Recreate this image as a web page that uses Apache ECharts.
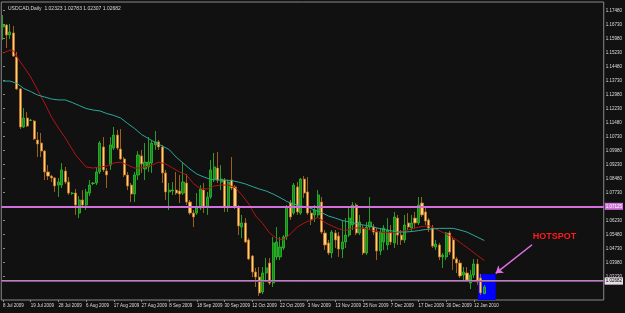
<!DOCTYPE html>
<html><head><meta charset="utf-8">
<script src="https://cdn.jsdelivr.net/npm/echarts@6/dist/echarts.min.js"></script>
<style>html,body{margin:0;padding:0;background:#111111;}#c{width:625px;height:313px;}</style>
</head><body><div id="c"></div>
<script>
const chartTitle = 'USDCAD,Daily  1.02323 1.02783 1.02307 1.02682';
const dateLabels = ['8 Jul 2009','19 Jul 2009','28 Jul 2009','6 Aug 2009','17 Aug 2009','27 Aug 2009','8 Sep 2009','18 Sep 2009','30 Sep 2009','12 Oct 2009','22 Oct 2009','3 Nov 2009','13 Nov 2009','25 Nov 2009','7 Dec 2009','17 Dec 2009','30 Dec 2009','12 Jan 2010'];
const labelEvery = 8;
const slotCount = 174;
const priceTicks = [1.17480,1.16730,1.15980,1.15230,1.14480,1.13730,1.12980,1.12230,1.11480,1.10730,1.09980,1.09230,1.08480,1.07730,1.06980,1.06230,1.05480,1.04730,1.03980,1.03230];
const priceMin = 1.01982, priceMax = 1.17946;
// [open, close, low, high]
const candles = [
[1.1661,1.1671,1.1591,1.1725],[1.1671,1.1618,1.1548,1.1677],[1.1618,1.1634,1.1596,1.1677],[1.1629,1.1505,1.1500,1.1666],
[1.1500,1.1329,1.1323,1.1527],[1.1329,1.1125,1.1114,1.1334],[1.1125,1.1173,1.1120,1.1227],[1.1173,1.1130,1.1125,1.1205],
[1.1160,1.1162,1.1157,1.1168],[1.1157,1.1061,1.1055,1.1162],[1.1055,1.1034,1.0964,1.1098],[1.1039,1.0996,1.0964,1.1093],
[1.0996,1.0884,1.0841,1.1002],[1.0884,1.0862,1.0841,1.0921],[1.0862,1.0852,1.0830,1.0868],[1.0852,1.0809,1.0777,1.0857],
[1.0814,1.0830,1.0750,1.0852],[1.0814,1.0895,1.0798,1.0932],[1.0889,1.0830,1.0820,1.0911],[1.0830,1.0771,1.0761,1.0857],
[1.0769,1.0771,1.0761,1.0777],[1.0771,1.0707,1.0654,1.0793],[1.0664,1.0734,1.0637,1.0755],[1.0734,1.0707,1.0696,1.0787],
[1.0707,1.0777,1.0680,1.0793],[1.0771,1.0814,1.0755,1.0841],[1.0822,1.0825,1.0814,1.0830],[1.0825,1.0884,1.0814,1.0905],
[1.0884,1.1039,1.0873,1.1050],[1.1018,1.0895,1.0884,1.1071],[1.0889,1.0868,1.0798,1.0905],[1.0921,1.1029,1.0895,1.1071],
[1.1012,1.1082,1.1002,1.1125],[1.1082,1.1012,1.1002,1.1109],[1.1007,1.0954,1.0948,1.1114],[1.0954,1.0868,1.0857,1.0964],
[1.0868,1.0809,1.0787,1.0884],[1.0814,1.0766,1.0723,1.0825],[1.0766,1.0868,1.0723,1.0884],[1.0868,1.0975,1.0841,1.0996],
[1.0970,1.0927,1.0879,1.1002],[1.0900,1.0937,1.0841,1.1039],[1.0911,1.0937,1.0884,1.1071],[1.0932,1.1039,1.0879,1.1055],
[1.1029,1.1045,1.1002,1.1104],[1.1045,1.1018,1.1002,1.1055],[1.1018,1.0879,1.0825,1.1029],[1.0879,1.0777,1.0734,1.0895],
[1.0777,1.0787,1.0680,1.0825],[1.0782,1.0787,1.0761,1.0830],[1.0787,1.0771,1.0761,1.0884],[1.0782,1.0766,1.0718,1.0868],
[1.0771,1.0830,1.0761,1.0932],[1.0825,1.0723,1.0707,1.0873],[1.0723,1.0664,1.0654,1.0734],[1.0664,1.0643,1.0589,1.0680],
[1.0664,1.0691,1.0654,1.0771],[1.0691,1.0793,1.0680,1.0814],[1.0787,1.0696,1.0664,1.0825],[1.0696,1.0750,1.0654,1.0777],
[1.0750,1.0895,1.0739,1.0948],[1.0846,1.0911,1.0830,1.0986],[1.0905,1.0841,1.0825,1.0991],[1.0830,1.0846,1.0787,1.0921],
[1.0841,1.0696,1.0670,1.0852],[1.0702,1.0830,1.0670,1.0841],[1.0841,1.0798,1.0787,1.0964],[1.0804,1.0696,1.0686,1.0814],
[1.0696,1.0595,1.0546,1.0707],[1.0589,1.0611,1.0530,1.0654],[1.0611,1.0509,1.0504,1.0637],[1.0520,1.0418,1.0412,1.0530],
[1.0434,1.0348,1.0321,1.0439],[1.0348,1.0321,1.0268,1.0370],[1.0321,1.0236,1.0220,1.0375],[1.0241,1.0343,1.0230,1.0375],
[1.0343,1.0370,1.0305,1.0423],[1.0396,1.0289,1.0279,1.0423],[1.0289,1.0504,1.0268,1.0536],[1.0429,1.0509,1.0412,1.0589],
[1.0429,1.0482,1.0412,1.0536],[1.0477,1.0536,1.0466,1.0546],[1.0536,1.0696,1.0520,1.0707],[1.0718,1.0643,1.0627,1.0734],
[1.0664,1.0814,1.0654,1.0825],[1.0804,1.0670,1.0654,1.0830],[1.0664,1.0846,1.0654,1.0852],[1.0846,1.0771,1.0745,1.0862],
[1.0777,1.0664,1.0654,1.0857],[1.0664,1.0627,1.0600,1.0680],[1.0654,1.0680,1.0616,1.0707],[1.0654,1.0761,1.0643,1.0787],
[1.0723,1.0562,1.0552,1.0750],[1.0557,1.0493,1.0466,1.0573],[1.0504,1.0450,1.0439,1.0520],[1.0450,1.0562,1.0423,1.0573],
[1.0557,1.0520,1.0477,1.0573],[1.0541,1.0471,1.0429,1.0562],[1.0471,1.0509,1.0423,1.0627],[1.0509,1.0546,1.0477,1.0637],
[1.0546,1.0637,1.0536,1.0691],[1.0600,1.0707,1.0573,1.0723],[1.0707,1.0557,1.0546,1.0718],[1.0557,1.0616,1.0546,1.0654],
[1.0584,1.0450,1.0439,1.0600],[1.0450,1.0589,1.0439,1.0616],[1.0589,1.0616,1.0573,1.0750],[1.0589,1.0562,1.0546,1.0605],
[1.0562,1.0461,1.0412,1.0584],[1.0461,1.0562,1.0439,1.0584],[1.0509,1.0584,1.0466,1.0600],[1.0493,1.0573,1.0466,1.0637],
[1.0562,1.0509,1.0493,1.0600],[1.0504,1.0643,1.0477,1.0670],[1.0637,1.0546,1.0493,1.0654],[1.0546,1.0520,1.0493,1.0573],
[1.0520,1.0600,1.0504,1.0654],[1.0611,1.0589,1.0573,1.0664],[1.0584,1.0611,1.0562,1.0654],[1.0637,1.0611,1.0584,1.0670],
[1.0611,1.0707,1.0600,1.0750],[1.0718,1.0654,1.0643,1.0750],[1.0670,1.0621,1.0600,1.0696],[1.0627,1.0584,1.0562,1.0637],
[1.0584,1.0487,1.0477,1.0600],[1.0482,1.0498,1.0466,1.0520],[1.0493,1.0429,1.0412,1.0504],[1.0429,1.0439,1.0370,1.0450],
[1.0429,1.0557,1.0412,1.0562],[1.0557,1.0455,1.0439,1.0568],[1.0520,1.0418,1.0359,1.0530],[1.0418,1.0396,1.0343,1.0429],
[1.0396,1.0327,1.0316,1.0412],[1.0332,1.0348,1.0300,1.0375],[1.0343,1.0305,1.0295,1.0375],[1.0289,1.0332,1.0257,1.0359],
[1.0332,1.0391,1.0316,1.0418],[1.0391,1.0295,1.0279,1.0418],[1.0316,1.0236,1.0225,1.0337],[1.02323,1.02682,1.02307,1.02783]
];
// moving averages: [bar index, value]
const maFast = [[0,1.1521],[2,1.1537],[3,1.1534],[4,1.1501],[6,1.1448],[8,1.1393],[10,1.1323],[12,1.1254],[14,1.1179],[16,1.1120],[18,1.1066],[21,1.0975],[23,1.0932],[24,1.0911],[26,1.0905],[28,1.0911],[30,1.0916],[32,1.0932],[34,1.0937],[36,1.0921],[38,1.0905],[39,1.0905],[41,1.0911],[43,1.0921],[45,1.0937],[47,1.0927],[49,1.0905],[51,1.0884],[53,1.0868],[55,1.0822],[57,1.0795],[59,1.0793],[61,1.0809],[63,1.0814],[65,1.0814],[67,1.0801],[69,1.0761],[71,1.0712],[73,1.0648],[75,1.0608],[77,1.0557],[79,1.0528],[81,1.0520],[83,1.0552],[85,1.0589],[87,1.0611],[89,1.0627],[91,1.0640],[93,1.0613],[95,1.0595],[97,1.0579],[99,1.0570],[101,1.0584],[103,1.0584],[105,1.0579],[107,1.0570],[109,1.0562],[111,1.0559],[113,1.0559],[115,1.0565],[117,1.0573],[119,1.0584],[121,1.0592],[123,1.0595],[125,1.0579],[127,1.0560],[129,1.0544],[131,1.0520],[133,1.0493],[135,1.0466],[137,1.0437],[139,1.0410]];
const maSlow = [[0,1.1371],[2,1.1371],[4,1.1359],[6,1.1331],[8,1.1315],[10,1.1296],[12,1.1286],[14,1.1275],[16,1.1270],[18,1.1270],[20,1.1256],[22,1.1240],[24,1.1224],[26,1.1216],[28,1.1211],[30,1.1197],[32,1.1187],[34,1.1173],[36,1.1144],[38,1.1117],[40,1.1085],[42,1.1063],[44,1.1042],[46,1.1023],[48,1.1004],[50,1.0964],[52,1.0932],[54,1.0900],[56,1.0873],[58,1.0857],[60,1.0844],[62,1.0841],[64,1.0841],[66,1.0838],[68,1.0830],[70,1.0820],[72,1.0806],[74,1.0793],[76,1.0782],[78,1.0766],[80,1.0747],[82,1.0726],[84,1.0712],[86,1.0702],[88,1.0696],[90,1.0680],[92,1.0667],[94,1.0648],[96,1.0637],[98,1.0624],[100,1.0616],[102,1.0608],[104,1.0600],[106,1.0595],[108,1.0584],[110,1.0576],[112,1.0570],[114,1.0562],[116,1.0562],[118,1.0565],[120,1.0570],[122,1.0576],[124,1.0579],[126,1.0582],[128,1.0582],[130,1.0582],[132,1.0573],[134,1.0562],[136,1.0544],[139,1.0517]];
const levelLines = [1.07125, 1.02919];
const bidPrice = 1.02682;
const hotspotBox = [[137.2, 1.0337], [142.3, 1.0198]];
const arrowFromTo = [[152.8, 1.0494], [142.3, 1.0341]];
const hotspotAt = [153.0, 1.0536];

const chart = echarts.init(document.getElementById('c'), null, {renderer: 'canvas'});
const cats = Array.from({length: slotCount}, (_, i) => i);
const showIdx = (i) => i % labelEvery === 0 && i / labelEvery < dateLabels.length;
const FONT = 'Liberation Sans';

chart.setOption({
  backgroundColor: '#111111',
  animation: false,
  title: {text: chartTitle, left: 3, top: 1, textStyle: {color: '#d8d8d8', fontSize: 5, fontWeight: 'normal', fontFamily: FONT}},
  grid: {left: 0, right: 19, top: 2, bottom: 13, show: true, borderColor: '#8a8a8a', borderWidth: 1},
  xAxis: [{
    type: 'category', data: cats, boundaryGap: true,
    axisLine: {show: false},
    axisTick: {show: true, alignWithLabel: true, interval: showIdx, length: 2, lineStyle: {color: '#8a8a8a'}},
    axisLabel: {interval: showIdx, formatter: (v, i) => dateLabels[i / labelEvery], align: 'left', fontSize: 4.5, color: '#dddddd', margin: 3, fontFamily: FONT},
    splitLine: {show: false}
  }, {type: 'value', min: -0.5, max: slotCount - 0.5, show: false}],
  yAxis: {
    type: 'value', position: 'right', min: priceMin, max: priceMax,
    axisLine: {show: false}, splitLine: {show: false},
    axisTick: {show: true, customValues: priceTicks, length: 2, lineStyle: {color: '#8a8a8a'}},
    axisLabel: {customValues: priceTicks, formatter: (v) => v.toFixed(5), fontSize: 4.5, color: '#dddddd', margin: 2, fontFamily: FONT}
  },
  series: [
    {type: 'line', xAxisIndex: 1, data: [], z: 1, silent: true,
     markArea: {silent: true, itemStyle: {color: '#0000ff', opacity: 1},
       data: [[{coord: hotspotBox[0]}, {coord: hotspotBox[1]}]]}},
    {type: 'candlestick', xAxisIndex: 0, data: candles, z: 2, barWidth: 2.6,
     itemStyle: {color: '#138a13', color0: '#ffd27a', borderColor: '#2fbf2f', borderColor0: '#c27320', borderWidth: 0.8}},
    {type: 'line', xAxisIndex: 1, data: maFast, z: 3, symbol: 'none', silent: true, lineStyle: {color: '#b31414', width: 1}},
    {type: 'line', xAxisIndex: 1, data: maSlow, z: 3, symbol: 'none', silent: true, lineStyle: {color: '#2aa89c', width: 1}},
    {type: 'line', xAxisIndex: 1, data: [], z: 4, silent: true,
     markLine: {silent: true, symbol: ['none', 'none'], animation: false,
       data: [
         {yAxis: levelLines[0], lineStyle: {color: '#d070d8', width: 2, type: 'solid'},
          label: {show: true, position: 'end', distance: 1, formatter: levelLines[0].toFixed(5), backgroundColor: '#d070d8', color: '#ffffff', fontSize: 4.5, padding: [1, 1], fontFamily: FONT}},
         {yAxis: levelLines[1], lineStyle: {color: '#d070d8', width: 2, type: 'solid'},
          label: {show: true, position: 'end', distance: 1, formatter: levelLines[1].toFixed(5), backgroundColor: '#d070d8', color: '#ffffff', fontSize: 4.5, padding: [1, 1], fontFamily: FONT}},
         {yAxis: bidPrice, lineStyle: {color: '#6a6a6a', width: 1, type: 'solid'},
          label: {show: true, position: 'end', distance: 1, formatter: bidPrice.toFixed(5), backgroundColor: '#e0e0e0', color: '#000000', fontSize: 4.5, padding: [1, 1], fontFamily: FONT}},
         [{coord: arrowFromTo[0], symbol: 'none', lineStyle: {color: '#e070e8', width: 1.5, type: 'solid'}, label: {show: false}},
          {coord: arrowFromTo[1], symbol: 'arrow', symbolSize: 7}]
       ]},
     markPoint: {silent: true, symbol: 'rect', symbolSize: 0,
       data: [{coord: hotspotAt, label: {show: true, position: 'right', distance: 0, formatter: 'HOTSPOT', color: '#ff1a1a', fontWeight: 'bold', fontSize: 9, fontFamily: FONT}}]}}
  ]
});
</script>
</body></html>
